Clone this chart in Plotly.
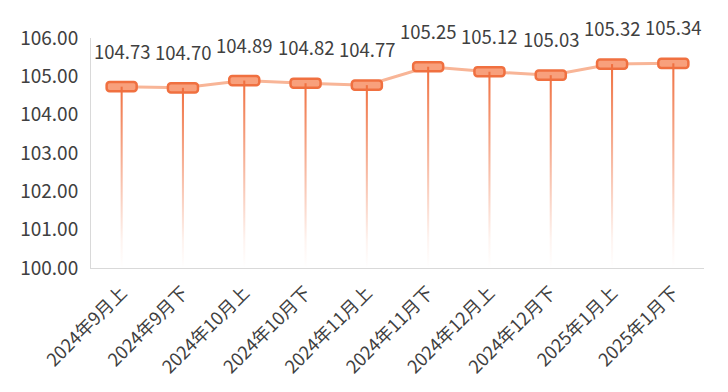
import plotly.graph_objects as go

categories = ["2024年9月上", "2024年9月下", "2024年10月上", "2024年10月下", "2024年11月上",
              "2024年11月下", "2024年12月上", "2024年12月下", "2025年1月上", "2025年1月下"]
values = [104.73, 104.70, 104.89, 104.82, 104.77, 105.25, 105.12, 105.03, 105.32, 105.34]
y_ticks = [100, 101, 102, 103, 104, 105, 106]

FONT = "Noto Sans CJK SC"
TXT = "#404040"
ORANGE = "#F07040"
ORANGE_FILL = "#F8A07C"
LINE_LIGHT = "#F8B597"
BASE = 100
box_h = 0.24
half_w = 0.017

idx = list(range(len(categories)))
fig = go.Figure()

# connecting line (bottom layer)
fig.add_trace(go.Scatter(x=idx, y=values, mode="lines",
                         line=dict(color=LINE_LIGHT, width=3),
                         hoverinfo="skip", showlegend=False, xaxis="x", yaxis="y"))

# rectangular markers (overlay axes)
fig.add_trace(go.Bar(x=idx, y=[box_h] * len(values), base=[v - box_h / 2 for v in values],
                     width=0.49, marker=dict(color=ORANGE_FILL, line=dict(color=ORANGE, width=2.5)),
                     hoverinfo="skip", showlegend=False, xaxis="x2", yaxis="y2"))

# gradient drop lines
for i, v in zip(idx, values):
    fig.add_trace(go.Scatter(
        x=[i - half_w, i + half_w, i + half_w, i - half_w, i - half_w],
        y=[BASE, BASE, v, v, BASE], mode="lines", line=dict(width=0),
        fill="toself",
        fillgradient=dict(type="vertical",
                          colorscale=[[0, "rgba(240,112,64,0)"], [0.15, "rgba(240,112,64,0.08)"],
                                      [1, "rgba(240,112,64,1)"]]),
        hoverinfo="skip", showlegend=False, xaxis="x2", yaxis="y2"))

for i, v in zip(idx, values):
    fig.add_annotation(x=i, y=v, xref="x", yref="y", text=f"{v:.2f}", showarrow=False,
                       yshift=36, font=dict(family=FONT, size=18.5, color=TXT))

fig.update_layout(
    width=712, height=376,
    margin=dict(l=83, r=16, t=30, b=116, autoexpand=False),
    paper_bgcolor="white", plot_bgcolor="white",
    font=dict(family=FONT, color=TXT),
    barcornerradius=3,
    xaxis=dict(range=[-0.5, 9.5], tickmode="array", tickvals=idx, ticktext=categories,
               tickangle=-45, tickfont=dict(size=18, color=TXT, family=FONT),
               showgrid=False, showline=True, linecolor="#d9d9d9", linewidth=1,
               ticks="", zeroline=False, automargin=False, ticklabelstandoff=6),
    yaxis=dict(range=[100, 106], tickvals=y_ticks, tickformat=".2f",
               tickfont=dict(size=19, color=TXT, family=FONT),
               showgrid=False, showline=True, linecolor="#d9d9d9", linewidth=1,
               ticks="", zeroline=False, ticklabelstandoff=8, automargin=False),
    xaxis2=dict(range=[-0.5, 9.5], overlaying="x", visible=False),
    yaxis2=dict(range=[100, 106], overlaying="y", visible=False),
)

fig.write_html("out.html")
